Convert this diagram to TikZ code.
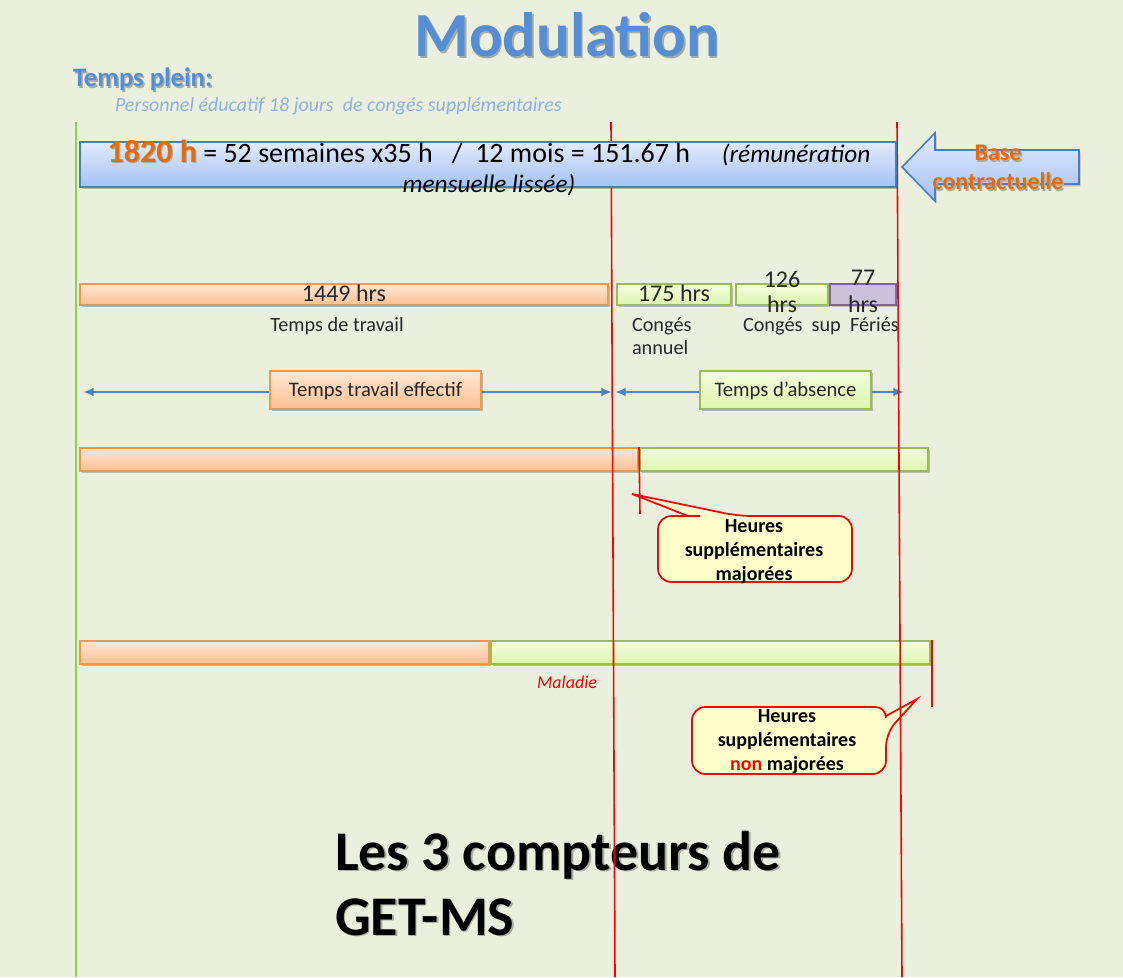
\documentclass[tikz,border=0pt]{standalone}
\usepackage{fontspec}
\setmainfont{Carlito}
\usetikzlibrary{shadows,arrows.meta}
\definecolor{bg}{RGB}{235,240,222}
\definecolor{titleblue}{RGB}{85,142,213}
\definecolor{subblue}{RGB}{141,179,226}
\definecolor{orangetxt}{RGB}{228,108,10}
\definecolor{blueborder}{RGB}{74,126,187}
\definecolor{bluetop}{RGB}{226,235,251}
\definecolor{bluebot}{RGB}{164,194,244}
\definecolor{ortop}{RGB}{254,232,214}
\definecolor{orbot}{RGB}{251,192,146}
\definecolor{orborder}{RGB}{247,150,70}
\definecolor{grtop}{RGB}{244,252,226}
\definecolor{grbot}{RGB}{221,245,172}
\definecolor{grborder}{RGB}{155,187,89}
\definecolor{pufill}{RGB}{204,193,218}
\definecolor{puborder}{RGB}{128,100,162}
\definecolor{callfill}{RGB}{255,255,204}
\definecolor{vgreen}{RGB}{146,208,80}
\definecolor{arrblue}{RGB}{79,129,189}
\definecolor{labgray}{RGB}{40,40,40}
\definecolor{shcol}{RGB}{170,172,162}
\newcommand{\upx}{0.75pt}
\newcommand{\shadowed}[2]{\leavevmode\rlap{\kern#1\raisebox{-#1}{\color{shcol}#2}}#2}
\begin{document}
\begin{tikzpicture}[x=0.75pt,y=-0.75pt,
  every node/.style={inner sep=0pt,outer sep=0pt},
  shbox/.style={drop shadow={shadow xshift=1.2pt,shadow yshift=-1.8pt,opacity=.3,fill=black!70}},
  orbar/.style={draw=orborder,line width=1.5pt,top color=ortop,bottom color=orbot,shbox},
  grbar/.style={draw=grborder,line width=1.5pt,top color=grtop,bottom color=grbot,shbox},
  pubar/.style={draw=puborder,line width=1.5pt,fill=pufill,shbox},
  bluebox/.style={draw=blueborder,line width=1.2pt,top color=bluetop,bottom color=bluebot,shbox},
  callout/.style={draw=red,line width=1.3pt,fill=callfill},
  calltext/.style={align=center,font=\bfseries\fontsize{15}{17.8}\selectfont},
  redline/.style={draw=red,line width=1.2pt},
  greenline/.style={draw=vgreen,line width=1.5pt},
  dblarrow/.style={draw=arrblue,line width=1.6pt,{Latex[length=8pt,width=6.5pt]}-{Latex[length=8pt,width=6.5pt]}},
  bartext/.style={font=\fontsize{18}{21}\selectfont,text=black!85},
  labtext/.style={font=\fontsize{15.2}{17}\selectfont,text=labgray},
  boxtext/.style={font=\fontsize{15.5}{18}\selectfont,text=black!85}
]
\fill[bg] (0,0) rectangle (1123,977);
\useasboundingbox (0,0) rectangle (1123,977);

% title
\node[font=\bfseries\fontsize{47}{56}\selectfont,text=titleblue,anchor=base] (title) at (567,57) {\shadowed{1.3pt}{Modulation}};
\node[font=\bfseries\fontsize{20}{24}\selectfont,text=titleblue,anchor=base west] (tp) at (73,87) {\shadowed{1.2pt}{Temps plein:}};
\node[font=\itshape\fontsize{15}{17}\selectfont,text=subblue,anchor=base west] (perso) at (115,112) {Personnel éducatif 18 jours\ \ de congés supplémentaires};

% row 1 bars
\node[orbar,minimum width=528*\upx,minimum height=21*\upx] (b1449) at (344,294.5) {};
\node[grbar,minimum width=114*\upx,minimum height=21*\upx] (b175) at (674,294.5) {};
\node[grbar,minimum width=92*\upx,minimum height=21*\upx] (b126) at (782,294.5) {};
\node[pubar,minimum width=66*\upx,minimum height=21*\upx] (b77) at (863,294.5) {};
\node[bartext,anchor=base] (t1449) at (344,301) {1449 hrs};
\node[bartext,anchor=base] (t175) at (674,301) {175 hrs};
\node[bartext,anchor=base] (t126a) at (782,287) {126};
\node[bartext,anchor=base] (t126b) at (782,312) {hrs};
\node[bartext,anchor=base] (t77a) at (863,285) {77};
\node[bartext,anchor=base] (t77b) at (863,312) {hrs};
\node[labtext,anchor=base] (ltt) at (337,331) {Temps de travail};
\node[labtext,anchor=base west] (lca1) at (632,331) {Congés};
\node[labtext,anchor=base west] (lca2) at (632,354) {annuel};
\node[labtext,anchor=base west] (lcs) at (743,331) {Congés\ \ sup\ \ Fériés};

% double arrows
\coordinate (a1l) at (83,392);
\coordinate (a1r) at (612,392);
\coordinate (a2l) at (615,392);
\coordinate (a2r) at (904,392);
\draw[dblarrow] (a1l) -- (a1r);
\draw[dblarrow] (a2l) -- (a2r);
\node[orbar,line width=1.2pt,minimum width=211*\upx,minimum height=38*\upx] (tte) at (375.5,390) {};
\node[boxtext,anchor=base] (ttet) at (375.5,396) {Temps travail effectif};
\node[grbar,line width=1.2pt,minimum width=171*\upx,minimum height=38*\upx] (tda) at (785.5,390) {};
\node[boxtext,anchor=base] (tdat) at (785.5,396) {Temps d’absence};

% row 2
\node[orbar,minimum width=558*\upx,minimum height=23*\upx] (r2o) at (359,459.5) {};
\node[grbar,minimum width=288*\upx,minimum height=23*\upx] (r2g) at (784,459.5) {};
\coordinate (m2t) at (639,447);
\coordinate (m2b) at (640,514);
\draw[redline] (m2t) -- (m2b);
\draw[callout] (700,516) [rounded corners=10] -- (658,516) -- (658,582) -- (852,582) -- (852,516) -- (738,516) [sharp corners] -- (632,494) -- (688,516) -- cycle;
\node[calltext,anchor=north] (c1) at (754,520) {Heures\\supplémentaires\\majorées};

% row 3
\node[orbar,minimum width=409*\upx,minimum height=23*\upx] (r3o) at (284.5,652.5) {};
\node[grbar,minimum width=439*\upx,minimum height=23*\upx] (r3g) at (710.5,652.5) {};
\node[font=\itshape\fontsize{13.5}{15}\selectfont,text=red,anchor=base west] (mal) at (537,688) {Maladie};
\coordinate (m3t) at (932,640);
\coordinate (m3b) at (932,707);
\draw[redline] (m3t) -- (m3b);
\draw[callout] (800,707) [rounded corners=10] -- (692,707) -- (692,774) -- (886,774) -- (886,733) [sharp corners] -- (917,699) -- (886,716) [rounded corners=8] -- (886,707) -- cycle;
\node[calltext,anchor=north] (c2) at (787,710) {Heures\\supplémentaires\\{\color{red}non} majorées};

% big text
\node[font=\bfseries\fontsize{42}{50}\selectfont,text=black,anchor=base west] (les) at (335,870) {\shadowed{1.3pt}{Les 3 compteurs de}};
\node[font=\bfseries\fontsize{42}{50}\selectfont,text=black,anchor=base west] (get) at (335,935) {\shadowed{1.3pt}{GET-MS}};

% vertical lines
\coordinate (gt) at (76,122);
\coordinate (gb) at (76,977);
\coordinate (r1t) at (611,122);
\coordinate (r1b) at (615,977);
\coordinate (r2t) at (897,122);
\coordinate (r2b) at (902,977);
\draw[greenline] (gt) -- (gb);
\draw[redline] (r1t) -- (r1b);
\draw[redline] (r2t) -- (r2b);

% blue box
\node[bluebox,minimum width=816*\upx,minimum height=45*\upx] (b1820) at (488,164.5) {};
\node[align=center,font=\fontsize{21}{22.5}\selectfont,text=black,anchor=north] (t1820) at (489,140) {{\bfseries\fontsize{24}{22.5}\selectfont\color{orangetxt}\shadowed{1pt}{1820 h}} = 52 semaines x35 h\ \ \ /\ \ 12 mois = 151.67 h\ \ \ \ \ {\itshape\fontsize{19}{22.5}\selectfont(rémunération}\\{\itshape\fontsize{19}{22.5}\selectfont mensuelle lissée)}};

% base contractuelle arrow
\draw[bluebox] (902,167) -- (935,133) -- (935,150) -- (1079,150) -- (1079,184) -- (935,184) -- (935,201) -- cycle;
\node[align=center,font=\bfseries\fontsize{18}{22}\selectfont,text=orangetxt,anchor=north] (basec) at (998,145) {\shadowed{1.2pt}{Base}\\\shadowed{1.2pt}{contractuelle}};
\end{tikzpicture}
\end{document}
